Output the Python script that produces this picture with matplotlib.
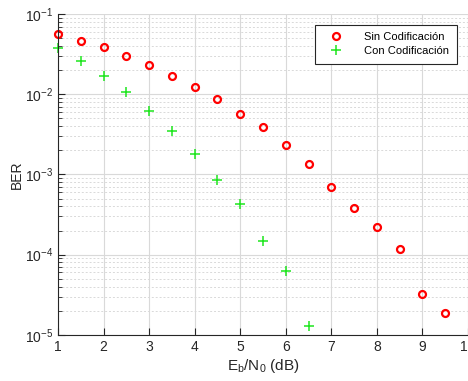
import matplotlib
matplotlib.use('Agg')
import matplotlib.pyplot as plt
import numpy as np

# --- Datos ---
ebno = [1, 1.5, 2, 2.5, 3, 3.5, 4, 4.5, 5, 5.5, 6, 6.5, 7, 7.5, 8, 8.5, 9, 9.5]
ber_sin = [0.056, 0.046, 0.039, 0.030, 0.023, 0.017, 0.0123, 0.0087, 0.0057,
           0.0039, 0.0023, 0.00135, 0.00069, 0.00038, 0.000222, 0.000118,
           3.2e-5, 1.85e-5]
ebno_con = [1, 1.5, 2, 2.5, 3, 3.5, 4, 4.5, 5, 5.5, 6, 6.5]
ber_con = [0.038, 0.026, 0.017, 0.0107, 0.0062, 0.0035, 0.0018, 0.00086,
           0.00043, 0.00015, 6.3e-5, 1.3e-5]

plt.rcParams['font.family'] = ['Liberation Sans', 'DejaVu Sans']
txt = '#262626'

fig = plt.figure(figsize=(4.68, 3.81), dpi=100)
ax = fig.add_axes([0.124, 0.121, 0.876, 0.842])

ax.semilogy(ebno, ber_sin, 'o', color='red', mfc='none', mew=1.6, ms=5,
            label='Sin Codificación', clip_on=False)
ax.semilogy(ebno_con, ber_con, '+', color='#1ee61e', mew=1.1, ms=6.5,
            label='Con Codificación', clip_on=False)

ax.set_xlim(1, 10)
ax.set_ylim(1e-5, 1e-1)
ax.set_xticks(range(1, 11))

ax.grid(True, which='major', color='#d9d9d9', lw=0.8)
ax.grid(True, which='minor', axis='y', color='#d9d9d9', lw=0.7, ls=(0, (2, 2)))
ax.set_axisbelow(True)

ax.tick_params(which='both', direction='in', colors=txt, labelsize=10,
               top=False, right=False)
ax.tick_params(which='major', length=5)
ax.tick_params(which='minor', length=3)
for s in ['top', 'right']:
    ax.spines[s].set_visible(False)
for s in ['left', 'bottom']:
    ax.spines[s].set_color(txt)

ax.set_xlabel('E$_\\mathregular{b}$/N$_\\mathregular{0}$ (dB)', fontsize=11, color=txt, labelpad=2)
ax.set_ylabel('BER', fontsize=10, color=txt, labelpad=0.5)

leg = ax.legend(loc='upper right', bbox_to_anchor=(0.972, 0.967), fontsize=8,
                fancybox=False, edgecolor=txt, framealpha=1, borderpad=0.65,
                borderaxespad=0, handletextpad=1.3, labelspacing=0.4,
                handlelength=2.5)
leg.get_frame().set_linewidth(0.8)

fig.savefig('out.png', dpi=100)
